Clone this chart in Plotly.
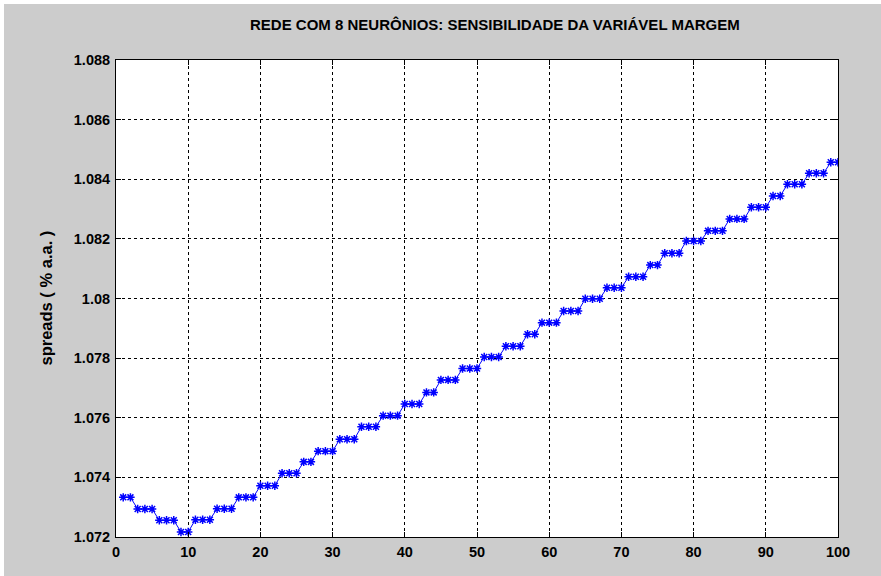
import plotly.graph_objects as go

x_vals = list(range(1, 101))
plateau_lengths = [2, 3, 3, 2, 3, 3, 3, 3, 3, 2, 3, 3, 3, 3, 3, 2, 3, 3, 3, 3, 2, 3, 3, 3, 3, 3, 2, 3, 3, 3, 3, 3, 2, 3, 3, 2]
plateau_values = [1.07333, 1.07294, 1.07256, 1.07217, 1.07258, 1.07295, 1.07333, 1.07372, 1.07414,
                  1.07452, 1.07488, 1.07528, 1.07570, 1.07607, 1.07646, 1.07685, 1.07727, 1.07765,
                  1.07804, 1.07840, 1.07880, 1.07919, 1.07958, 1.07999, 1.08036, 1.08073, 1.08112,
                  1.08152, 1.08193, 1.08227, 1.08267, 1.08306, 1.08344, 1.08383, 1.08420, 1.08457]
y_vals = []
for n, v in zip(plateau_lengths, plateau_values):
    y_vals.extend([v] * n)
y_vals = y_vals[:100]

x_ticks = [0, 10, 20, 30, 40, 50, 60, 70, 80, 90, 100]
y_ticks = [1.072, 1.074, 1.076, 1.078, 1.08, 1.082, 1.084, 1.086, 1.088]
y_tick_text = ["1.072", "1.074", "1.076", "1.078", "1.08", "1.082", "1.084", "1.086", "1.088"]

title_text = "REDE COM 8 NEURÔNIOS: SENSIBILIDADE DA VARIÁVEL MARGEM"
y_title = "spreads ( % a.a. )"

OFF = 4  # page offset of the figure (white strip in the reference)
W, H = 881 - OFF, 576 - OFF
L, T = 116 - OFF, 60 - OFF
pw, ph = 722, 477
R = W - L - pw
B = H - T - ph

fig = go.Figure()
fig.add_trace(go.Scatter(
    x=x_vals, y=y_vals, mode="lines+markers",
    line=dict(color="#0000ff", width=1),
    marker=dict(symbol="asterisk-open", size=7, color="#0000ff",
                line=dict(color="#0000ff", width=1.5)),
    showlegend=False,
))

font_fam = "Liberation Sans, Arial, sans-serif"
axis_common = dict(
    showline=True, linecolor="#000000", linewidth=1, mirror="ticks",
    ticks="inside", ticklen=5, tickcolor="#000000",
    showgrid=True, gridcolor="#000000", gridwidth=1, griddash="3px,3px",
    zeroline=False,
    tickfont=dict(family=font_fam, size=14.5, color="#000000", weight="bold"),
)

fig.update_layout(
    width=W, height=H,
    margin=dict(l=L, r=R, t=T, b=B, pad=0),
    paper_bgcolor="#cccccc",
    plot_bgcolor="#ffffff",
    xaxis=dict(range=[0, 100], tickvals=x_ticks, ticklabelstandoff=2, **axis_common),
    yaxis=dict(range=[1.072, 1.088], tickvals=y_ticks, ticktext=y_tick_text,
               ticklabelstandoff=2, **axis_common),
    annotations=[
        dict(text=title_text, xref="paper", yref="paper",
             x=(495 - 116) / pw, y=1 + (60 - 25) / ph, xanchor="center", yanchor="middle",
             showarrow=False, font=dict(family=font_fam, size=15, color="#000000", weight="bold")),
        dict(text=y_title, xref="paper", yref="paper",
             x=(45 - 116) / pw, y=0.5, xanchor="center", yanchor="middle", textangle=-90,
             showarrow=False, font=dict(family=font_fam, size=16.5, color="#000000", weight="bold")),
    ],
)

fig.write_html("out.html", post_script="document.body.style.margin='4px 0 0 4px';")
